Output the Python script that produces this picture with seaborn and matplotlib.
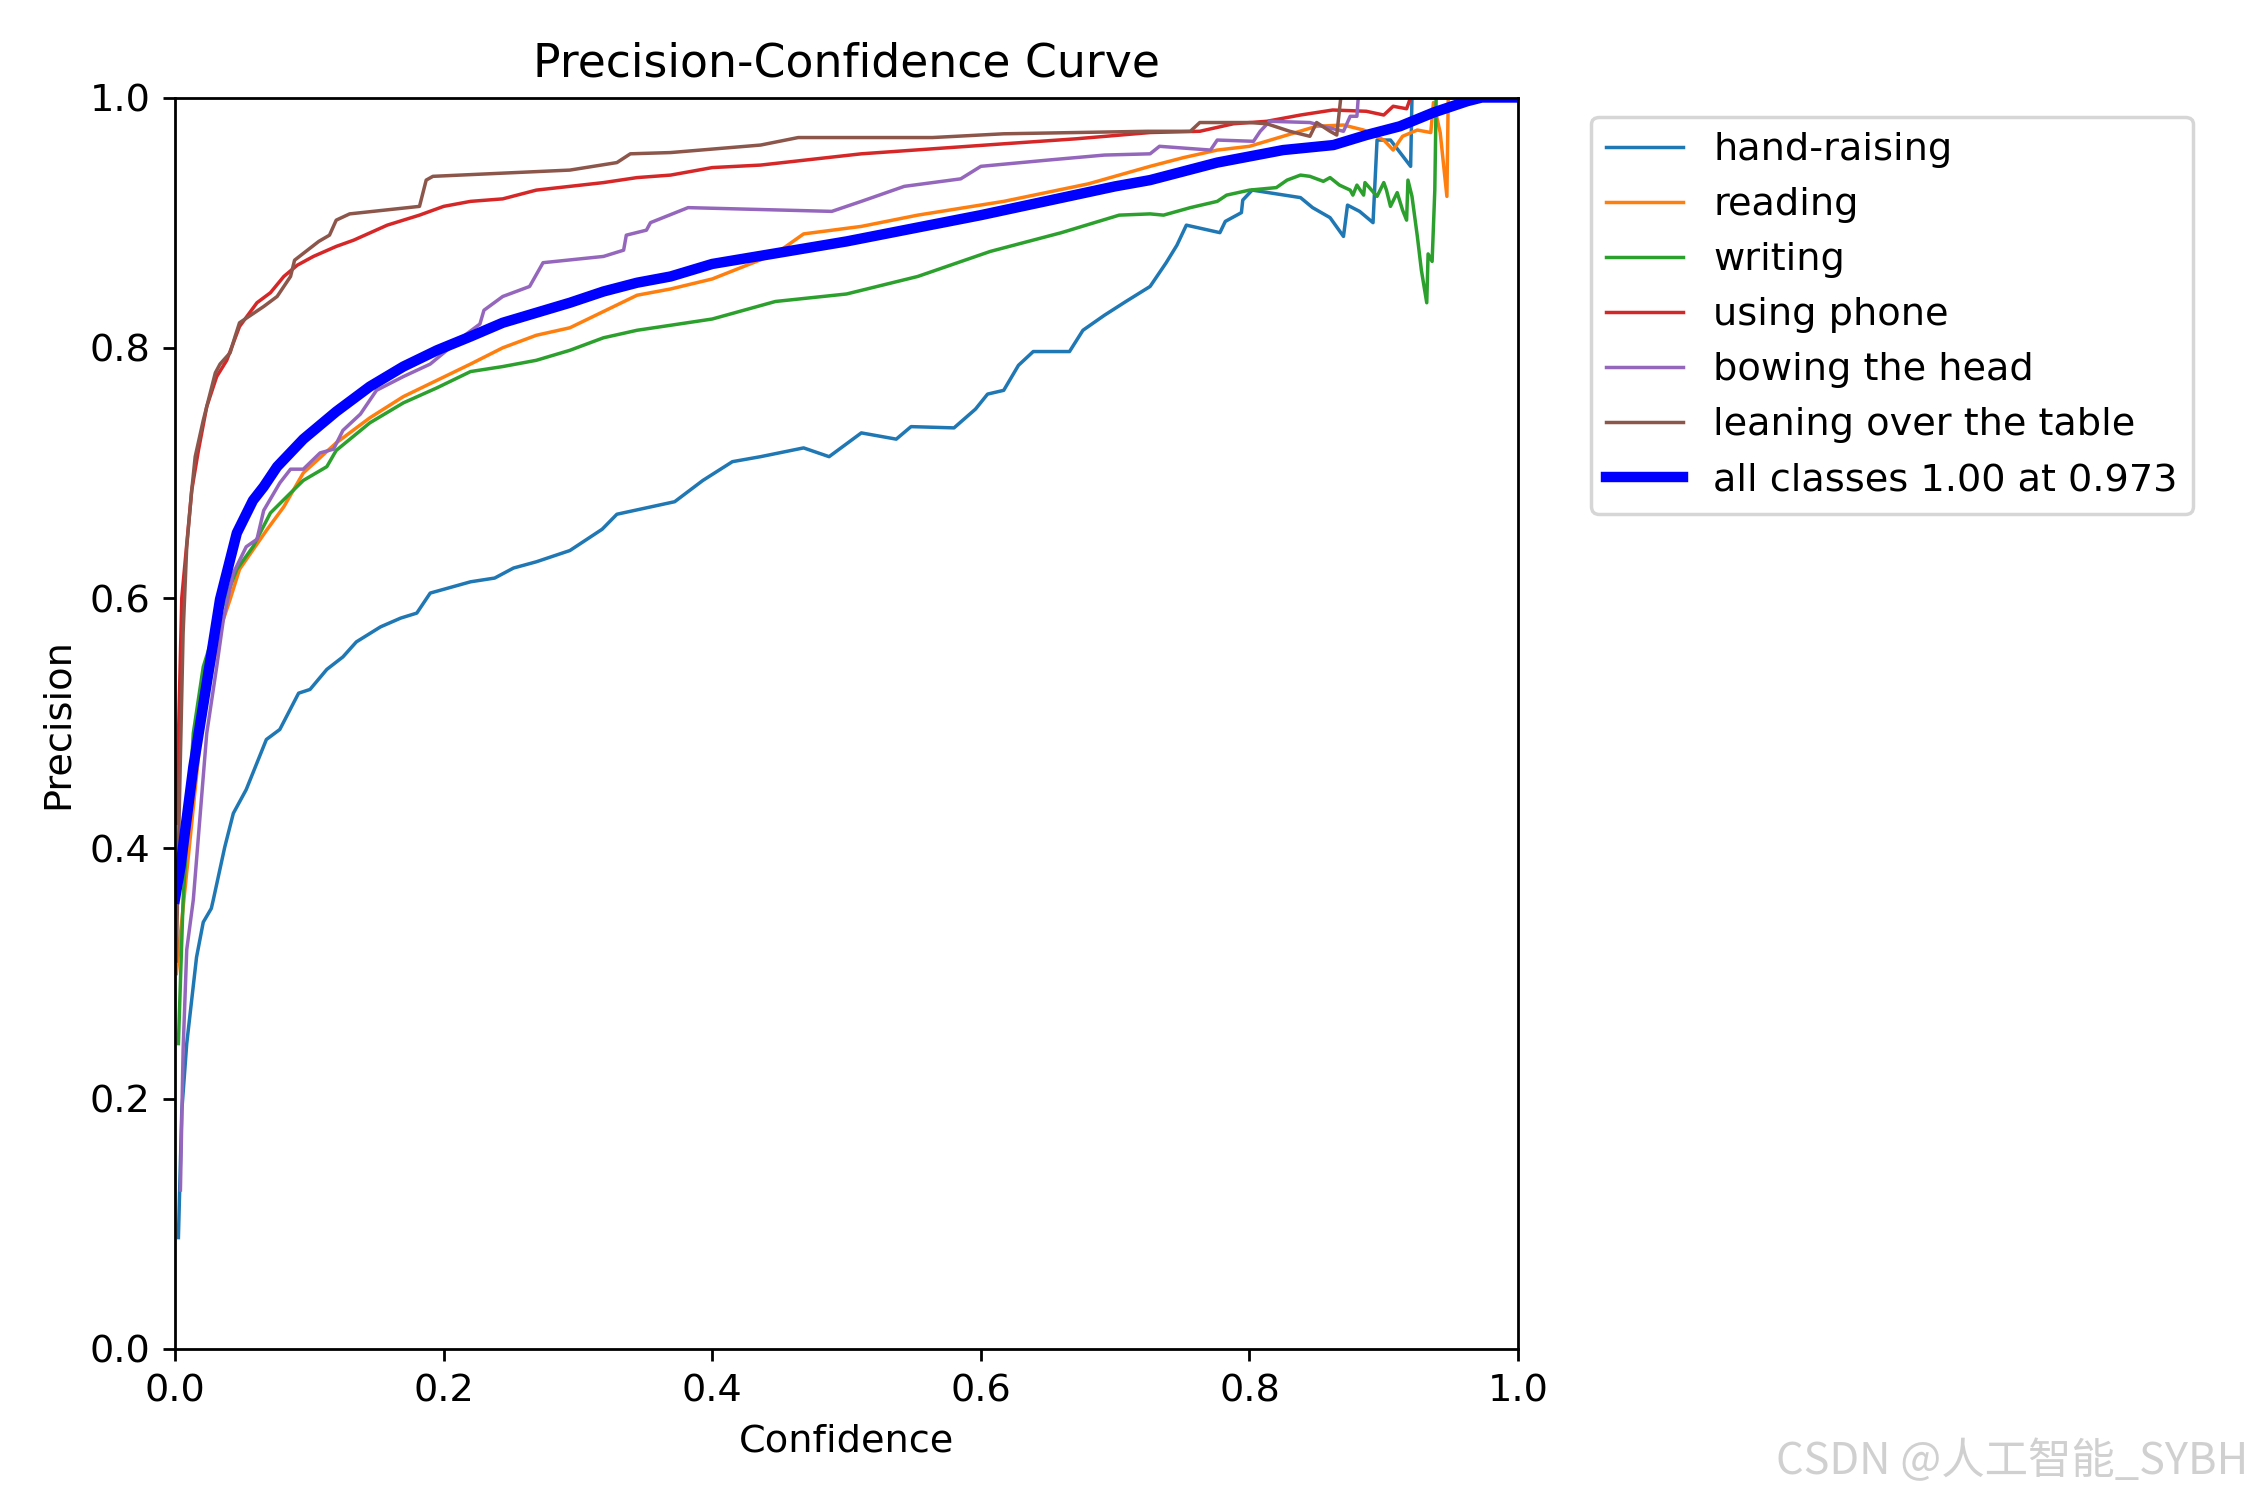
import numpy as np
import pandas as pd
import matplotlib
matplotlib.use("Agg")
import matplotlib.pyplot as plt
import seaborn as sns

names = ["hand-raising", "reading", "writing", "using phone", "bowing the head", "leaning over the table"]

hand_x = [0.0025, 0.005, 0.0087, 0.016, 0.021, 0.027, 0.0285, 0.037, 0.0434, 0.053, 0.068, 0.078, 0.092, 0.1005,
          0.113, 0.125, 0.135, 0.153, 0.168, 0.18, 0.19, 0.22, 0.238, 0.252, 0.269, 0.294, 0.318, 0.329, 0.372,
          0.393, 0.415, 0.436, 0.468, 0.487, 0.511, 0.537, 0.548, 0.58, 0.596, 0.605, 0.617, 0.628, 0.639, 0.666,
          0.676, 0.692, 0.708, 0.726, 0.738, 0.746, 0.753, 0.778, 0.782, 0.794, 0.795, 0.802, 0.808, 0.838, 0.847,
          0.860, 0.870, 0.873, 0.882, 0.892, 0.895, 0.905, 0.920, 0.921, 1.0]
hand_y = [0.089, 0.19, 0.244, 0.313, 0.341, 0.352, 0.359, 0.401, 0.428, 0.447, 0.487, 0.495, 0.524, 0.527,
          0.543, 0.553, 0.565, 0.577, 0.584, 0.588, 0.604, 0.613, 0.616, 0.624, 0.629, 0.638, 0.655, 0.667, 0.677,
          0.694, 0.709, 0.713, 0.72, 0.713, 0.732, 0.727, 0.737, 0.736, 0.751, 0.763, 0.766, 0.786, 0.797, 0.797,
          0.814, 0.826, 0.837, 0.849, 0.868, 0.882, 0.898, 0.892, 0.901, 0.908, 0.918, 0.926, 0.925, 0.920, 0.912,
          0.904, 0.889, 0.914, 0.909, 0.900, 0.966, 0.966, 0.945, 1.0, 1.0]

read_x = [0.001, 0.02, 0.0335, 0.041, 0.048, 0.068, 0.081, 0.0955, 0.12, 0.145, 0.17, 0.195, 0.22, 0.244, 0.269,
          0.294, 0.319, 0.344, 0.369, 0.40, 0.447, 0.468, 0.511, 0.553, 0.617, 0.68, 0.726, 0.751, 0.776, 0.80,
          0.825, 0.85, 0.87, 0.885, 0.90, 0.907, 0.914, 0.925, 0.935, 0.937, 0.942, 0.947, 0.948, 1.0]
read_y = [0.30, 0.50, 0.575, 0.599, 0.623, 0.654, 0.673, 0.700, 0.724, 0.744, 0.761, 0.774, 0.787, 0.800, 0.810,
          0.816, 0.829, 0.842, 0.847, 0.855, 0.875, 0.891, 0.897, 0.906, 0.917, 0.931, 0.945, 0.952, 0.958, 0.961,
          0.969, 0.977, 0.978, 0.974, 0.966, 0.958, 0.969, 0.974, 0.972, 0.996, 0.972, 0.921, 1.0, 1.0]

write_x = [0.0025, 0.006, 0.0136, 0.021, 0.0335, 0.046, 0.058, 0.071, 0.086, 0.0955, 0.113, 0.12, 0.145, 0.17,
           0.195, 0.22, 0.244, 0.269, 0.294, 0.319, 0.344, 0.369, 0.40, 0.447, 0.50, 0.553, 0.607, 0.66, 0.703,
           0.726, 0.736, 0.756, 0.776, 0.783, 0.80, 0.82, 0.828, 0.838, 0.845, 0.855, 0.86, 0.867, 0.875, 0.877,
           0.88, 0.885, 0.886, 0.895, 0.90, 0.902, 0.905, 0.91, 0.914, 0.917, 0.918, 0.921, 0.925, 0.928, 0.932,
           0.933, 0.936, 0.938, 0.939, 1.0]
write_y = [0.244, 0.359, 0.492, 0.545, 0.588, 0.623, 0.641, 0.668, 0.684, 0.694, 0.705, 0.718, 0.74, 0.756,
           0.768, 0.781, 0.785, 0.79, 0.798, 0.808, 0.814, 0.818, 0.823, 0.837, 0.843, 0.857, 0.877, 0.892, 0.906,
           0.907, 0.906, 0.912, 0.917, 0.922, 0.926, 0.928, 0.934, 0.938, 0.937, 0.933, 0.936, 0.930, 0.926, 0.922,
           0.930, 0.922, 0.932, 0.921, 0.932, 0.926, 0.913, 0.924, 0.910, 0.902, 0.934, 0.921, 0.889, 0.862, 0.836,
           0.875, 0.869, 0.926, 1.0, 1.0]

phone_x = [0.001, 0.005, 0.0124, 0.0174, 0.0236, 0.031, 0.0385, 0.048, 0.061, 0.071, 0.081, 0.091, 0.103, 0.12,
           0.133, 0.158, 0.182, 0.20, 0.22, 0.244, 0.269, 0.294, 0.319, 0.344, 0.369, 0.40, 0.436, 0.511, 0.617,
           0.671, 0.726, 0.763, 0.788, 0.813, 0.838, 0.862, 0.887, 0.90, 0.907, 0.917, 0.92, 1.0]
phone_y = [0.42, 0.60, 0.686, 0.718, 0.753, 0.777, 0.79, 0.817, 0.836, 0.844, 0.857, 0.866, 0.873, 0.881,
           0.886, 0.898, 0.906, 0.913, 0.917, 0.919, 0.926, 0.929, 0.932, 0.936, 0.938, 0.944, 0.946, 0.955, 0.963,
           0.967, 0.972, 0.973, 0.979, 0.981, 0.986, 0.99, 0.989, 0.986, 0.993, 0.991, 1.0, 1.0]

bow_x = [0.004, 0.006, 0.0087, 0.0136, 0.0236, 0.031, 0.036, 0.0434, 0.053, 0.061, 0.066, 0.078, 0.086, 0.0955,
         0.108, 0.118, 0.125, 0.138, 0.15, 0.17, 0.19, 0.217, 0.227, 0.23, 0.244, 0.264, 0.274, 0.319, 0.334,
         0.336, 0.351, 0.354, 0.382, 0.489, 0.511, 0.543, 0.585, 0.60, 0.65, 0.692, 0.726, 0.733, 0.771, 0.776,
         0.803, 0.808, 0.815, 0.845, 0.855, 0.870, 0.875, 0.88, 0.881, 1.0]
bow_y = [0.127, 0.239, 0.319, 0.359, 0.492, 0.545, 0.583, 0.620, 0.641, 0.647, 0.670, 0.692, 0.703, 0.703,
         0.716, 0.719, 0.734, 0.747, 0.766, 0.777, 0.787, 0.811, 0.819, 0.83, 0.841, 0.849, 0.868, 0.873, 0.878,
         0.89, 0.894, 0.90, 0.912, 0.909, 0.917, 0.929, 0.935, 0.945, 0.95, 0.954, 0.955, 0.961, 0.958, 0.966,
         0.965, 0.973, 0.981, 0.98, 0.977, 0.973, 0.985, 0.985, 1.0, 1.0]

lean_x = [0.001, 0.0025, 0.006, 0.0087, 0.0124, 0.015, 0.021, 0.03, 0.0335, 0.041, 0.0447, 0.048, 0.066, 0.076,
          0.086, 0.089, 0.107, 0.115, 0.12, 0.13, 0.182, 0.187, 0.192, 0.294, 0.329, 0.339, 0.369, 0.436, 0.464,
          0.564, 0.617, 0.724, 0.756, 0.763, 0.80, 0.813, 0.83, 0.845, 0.85, 0.86, 0.865, 0.868, 1.0]
lean_y = [0.31, 0.399, 0.572, 0.641, 0.686, 0.713, 0.742, 0.78, 0.787, 0.796, 0.809, 0.82, 0.833, 0.841,
          0.857, 0.87, 0.885, 0.89, 0.902, 0.907, 0.913, 0.934, 0.937, 0.942, 0.948, 0.955, 0.956, 0.962, 0.968,
          0.968, 0.971, 0.973, 0.973, 0.980, 0.98, 0.979, 0.973, 0.969, 0.98, 0.973, 0.970, 1.0, 1.0]

all_x = [0.0, 0.004, 0.0136, 0.0236, 0.0335, 0.046, 0.058, 0.066, 0.076, 0.0955, 0.12, 0.145, 0.17, 0.195,
         0.22, 0.244, 0.269, 0.294, 0.319, 0.344, 0.369, 0.40, 0.50, 0.60, 0.70, 0.726, 0.776, 0.825, 0.8625,
         0.887, 0.912, 0.937, 0.962, 0.973, 1.0]
all_y = [0.36, 0.385, 0.465, 0.532, 0.599, 0.652, 0.678, 0.689, 0.705, 0.727, 0.749, 0.769, 0.785, 0.798,
         0.809, 0.82, 0.828, 0.836, 0.845, 0.852, 0.857, 0.867, 0.885, 0.906, 0.929, 0.934, 0.948, 0.958, 0.962,
         0.970, 0.977, 0.988, 0.997, 1.0, 1.0]

all_label = "all classes 1.00 at 0.973"

series_x = [hand_x, read_x, write_x, phone_x, bow_x, lean_x]
series_y = [hand_y, read_y, write_y, phone_y, bow_y, lean_y]
colors = sns.color_palette("tab10", 6)

plt.rcParams["font.size"] = 11

fig, ax = plt.subplots(figsize=(9, 6), dpi=250)
fig.subplots_adjust(left=0.0778, right=0.6747, bottom=0.1007, top=0.935)

for name, xs, ys, c in zip(names, series_x, series_y, colors):
    df = pd.DataFrame({"x": xs, "y": ys})
    sns.lineplot(data=df, x="x", y="y", ax=ax, color=c, linewidth=1, label=name,
                 estimator=None, sort=False)

df_all = pd.DataFrame({"x": all_x, "y": all_y})
sns.lineplot(data=df_all, x="x", y="y", ax=ax, color="blue", linewidth=3, label=all_label,
             estimator=None, sort=False)

ax.set_xlim(0, 1)
ax.set_ylim(0, 1)
ax.set_xlabel("Confidence")
ax.set_ylabel("Precision")
ax.set_title("Precision-Confidence Curve")
ax.legend(bbox_to_anchor=(1.04, 1), loc="upper left")

fig.text(0.999, 0.025, "CSDN @人工智能_SYBH", ha="right", va="center", fontsize=12.5,
         color="#d0d0d0", family=["Noto Sans CJK SC", "DejaVu Sans"])

fig.savefig("out.png", dpi=250)
